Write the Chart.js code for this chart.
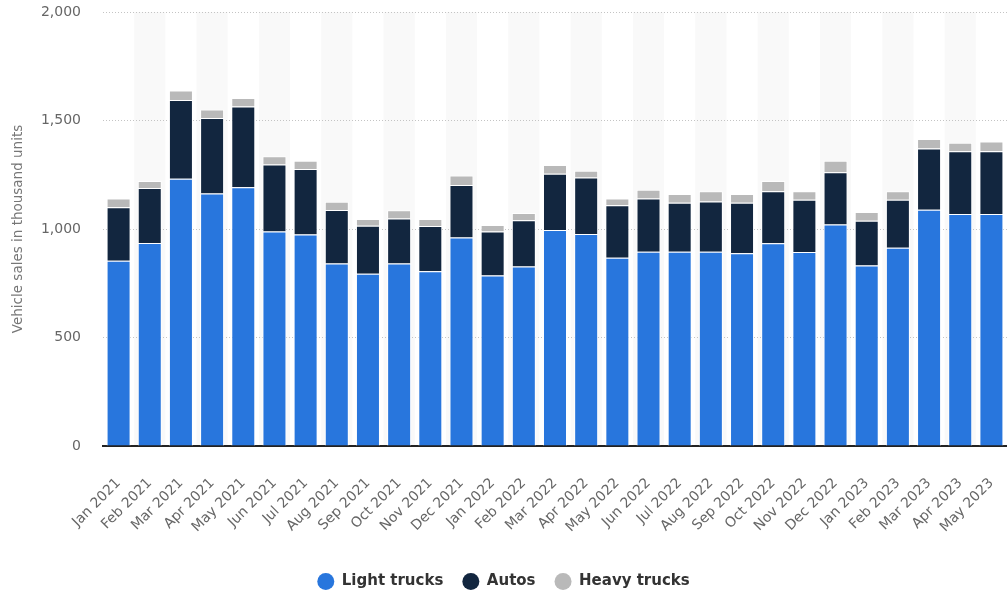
<!DOCTYPE html>
<html>
<head>
<meta charset="utf-8">
<script src="https://cdn.jsdelivr.net/npm/chart.js@4"></script>
<style>
    body { margin: 0; background: #fff; }
    #grafica { display: block; }
</style>
</head>
<body>
<canvas id="grafica" width="1007" height="593"></canvas>
<script>
// monthly vehicle sales, thousand units
const meses = ["Jan 2021", "Feb 2021", "Mar 2021", "Apr 2021", "May 2021", "Jun 2021", "Jul 2021", "Aug 2021",
    "Sep 2021", "Oct 2021", "Nov 2021", "Dec 2021", "Jan 2022", "Feb 2022", "Mar 2022", "Apr 2022", "May 2022",
    "Jun 2022", "Jul 2022", "Aug 2022", "Sep 2022", "Oct 2022", "Nov 2022", "Dec 2022", "Jan 2023", "Feb 2023",
    "Mar 2023", "Apr 2023", "May 2023"];
const lightTrucks = [854, 935, 1231, 1164, 1192, 989, 975, 841, 794, 841, 805, 961, 786, 827, 995, 977, 868,
    895, 895, 895, 888, 934, 894, 1021, 832, 914, 1089, 1069, 1069];
const autos = [246, 254, 363, 347, 372, 308, 302, 247, 221, 207, 209, 242, 202, 213, 260, 260, 241,
    246, 226, 232, 233, 240, 241, 240, 206, 221, 282, 289, 289];
const heavyTrucks = [40, 32, 44, 40, 40, 38, 38, 38, 31, 38, 32, 44, 30, 34, 40, 32, 31,
    40, 40, 47, 40, 47, 39, 54, 40, 39, 44, 39, 45];
const yTicks = [0, 500, 1000, 1500, 2000];

const fuente = "'DejaVu Sans', sans-serif";

// light grey band behind every second month
const bandas = {
    id: "bandas",
    beforeDraw(chart) {
        const { ctx, chartArea, scales } = chart;
        const ancho = (chartArea.right - chartArea.left) / meses.length;
        ctx.save();
        ctx.fillStyle = "#f9f9f9";
        for (let i = 1; i < meses.length; i += 2) {
            const x = scales.x.getPixelForValue(i) - ancho / 2;
            ctx.fillRect(x, chartArea.top, ancho, chartArea.bottom - chartArea.top);
        }
        ctx.restore();
    }
};

const data = {
    labels: meses,
    datasets: [
        { label: "Light trucks", data: lightTrucks, backgroundColor: "#2876dd" },
        { label: "Autos", data: autos, backgroundColor: "#12263f" },
        { label: "Heavy trucks", data: heavyTrucks, backgroundColor: "#b9b9b9" }
    ]
};
for (const ds of data.datasets) {
    ds.borderColor = "#ffffff";
    ds.borderWidth = 1;
    ds.borderSkipped = "start";
    ds.barPercentage = 0.77;
    ds.categoryPercentage = 1;
}

const config = {
    type: "bar",
    data: data,
    plugins: [bandas],
    options: {
        responsive: false,
        animation: false,
        layout: { padding: { top: 12, right: 0, bottom: -6, left: 0 } },
        plugins: {
            tooltip: { enabled: false },
            legend: {
                position: "bottom",
                labels: {
                    usePointStyle: true,
                    pointStyle: "circle",
                    boxHeight: 12,
                    pointStyleWidth: 17,
                    padding: 19,
                    color: "#333",
                    font: { family: fuente, size: 15, weight: "bold" },
                    generateLabels(chart) {
                        return Chart.defaults.plugins.legend.labels.generateLabels(chart).map(item => {
                            item.strokeStyle = item.fillStyle;
                            item.lineWidth = 0;
                            return item;
                        });
                    }
                }
            }
        },
        scales: {
            x: {
                stacked: true,
                grid: { display: false },
                border: { display: true, color: "#222", width: 2 },
                afterFit(scale) {
                    // bars run right up to the canvas edge
                    scale.height = 109;
                    scale.paddingRight = 0;
                    scale.paddingLeft = 0;
                },
                ticks: {
                    color: "#666",
                    font: { family: fuente, size: 14 },
                    minRotation: 45,
                    maxRotation: 45,
                    autoSkip: false,
                    padding: 21
                }
            },
            y: {
                stacked: true,
                min: 0,
                max: 2000,
                afterBuildTicks(scale) {
                    scale.ticks = yTicks.map(v => ({ value: v }));
                },
                afterFit(scale) {
                    scale.width = 103;
                },
                grid: { color: "#c4c4c4", lineWidth: 1, drawTicks: true, tickLength: 20, tickColor: "rgba(0,0,0,0)" },
                border: { display: false, dash: [1, 2] },
                ticks: {
                    color: "#666",
                    padding: 2,
                    font: { family: fuente, size: 14 },
                    callback: v => v.toLocaleString("en-US")
                },
                title: {
                    display: true,
                    text: "Vehicle sales in thousand units",
                    color: "#777",
                    font: { family: fuente, size: 13.5 },
                    padding: { top: 10, bottom: 0 }
                }
            }
        }
    }
};

ChartPrincipal = new Chart(document.getElementById("grafica"), config);
</script>
</body>
</html>
